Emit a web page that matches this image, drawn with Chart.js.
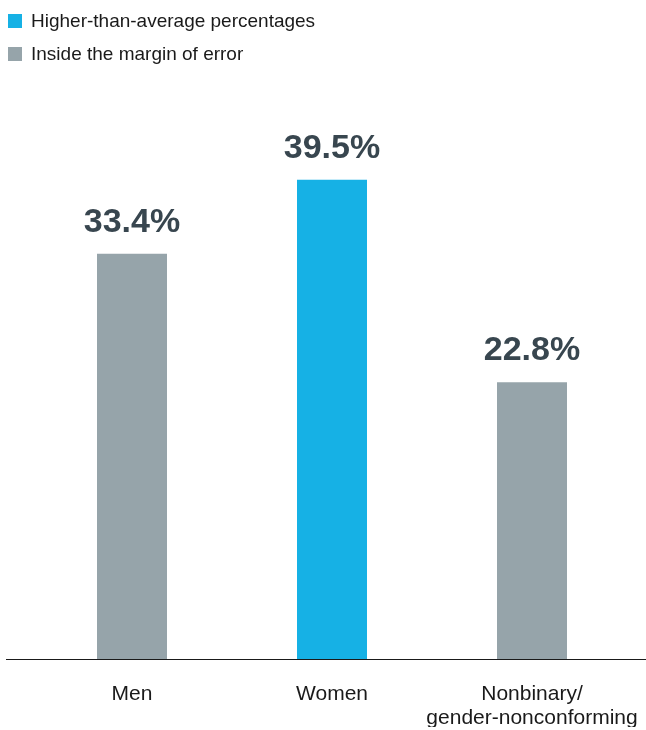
<!DOCTYPE html>
<html>
<head>
<meta charset="utf-8">
<script src="https://cdn.jsdelivr.net/npm/chart.js@4"></script>
<style>
  html, body { margin: 0; padding: 0; background: #ffffff; }
  #wrap { position: relative; width: 646px; height: 730px; }
  #chart { position: absolute; left: 0; top: 0; }
  #legend { position: absolute; left: 8px; top: 4px; font-family: "Liberation Sans", Arial, sans-serif; font-size: 19px; color: #1a1a1a; }
  .item { display: flex; align-items: center; height: 33px; }
  .swatch { width: 14px; height: 14px; margin-right: 9px; flex: none; }
</style>
</head>
<body>
<div id="wrap">
  <canvas id="chart" width="646" height="730"></canvas>
  <div id="legend"></div>
</div>
<script>
// Share of respondents by gender
const categories = ['Men', 'Women', ['Nonbinary/', 'gender-nonconforming']];
const percentages = [33.4, 39.5, 22.8];
// 1 = higher than average, 0 = inside the margin of error
const status = [0, 1, 0];
const statusNames = ['Inside the margin of error', 'Higher-than-average percentages'];
const statusColors = ['#96a4aa', '#16b1e5'];
const legendOrder = [1, 0];

// HTML legend
const legendEl = document.getElementById('legend');
legendOrder.forEach(function (s) {
  const row = document.createElement('div');
  row.className = 'item';
  const sw = document.createElement('span');
  sw.className = 'swatch';
  sw.style.background = statusColors[s];
  const txt = document.createElement('span');
  txt.textContent = statusNames[s];
  row.appendChild(sw);
  row.appendChild(txt);
  legendEl.appendChild(row);
});

// Value labels above each bar
const valueLabels = {
  id: 'valueLabels',
  afterDatasetsDraw(chart) {
    const ctx = chart.ctx;
    const meta = chart.getDatasetMeta(0);
    ctx.save();
    ctx.font = 'bold 34px "Liberation Sans", Arial, sans-serif';
    ctx.fillStyle = '#38464f';
    ctx.textAlign = 'center';
    ctx.textBaseline = 'alphabetic';
    meta.data.forEach(function (bar, i) {
      ctx.fillText(percentages[i].toFixed(1) + '%', bar.x, bar.y - 22);
    });
    ctx.restore();
  }
};

// Baseline rule spanning the full width
const baseline = {
  id: 'baseline',
  afterDatasetsDraw(chart) {
    const ctx = chart.ctx;
    const y = Math.round(chart.scales.y.getPixelForValue(0)) + 0.5;
    ctx.save();
    ctx.strokeStyle = '#1a1a1a';
    ctx.lineWidth = 1;
    ctx.beginPath();
    ctx.moveTo(6, y);
    ctx.lineTo(chart.width, y);
    ctx.stroke();
    ctx.restore();
  }
};

new Chart(document.getElementById('chart'), {
  type: 'bar',
  data: {
    labels: categories,
    datasets: [{
      data: percentages,
      backgroundColor: status.map(function (s) { return statusColors[s]; }),
      borderWidth: 0,
      categoryPercentage: 1,
      barPercentage: 0.35
    }]
  },
  options: {
    responsive: false,
    animation: false,
    events: [],
    layout: { padding: { top: 113, left: 32, right: 14, bottom: 3 } },
    plugins: { legend: { display: false }, tooltip: { enabled: false } },
    scales: {
      y: { display: false, min: 0, max: 45 },
      x: {
        grid: { display: false, drawTicks: false },
        border: { display: false },
        afterFit(scale) {
          scale.height = 68;
          scale.paddingLeft = 0;
          scale.paddingRight = 0;
        },
        ticks: {
          color: '#1a1a1a',
          padding: 23,
          maxRotation: 0,
          autoSkip: false,
          font: { family: '"Liberation Sans", Arial, sans-serif', size: 21, lineHeight: 1.15 }
        }
      }
    }
  },
  plugins: [valueLabels, baseline]
});
</script>
</body>
</html>
